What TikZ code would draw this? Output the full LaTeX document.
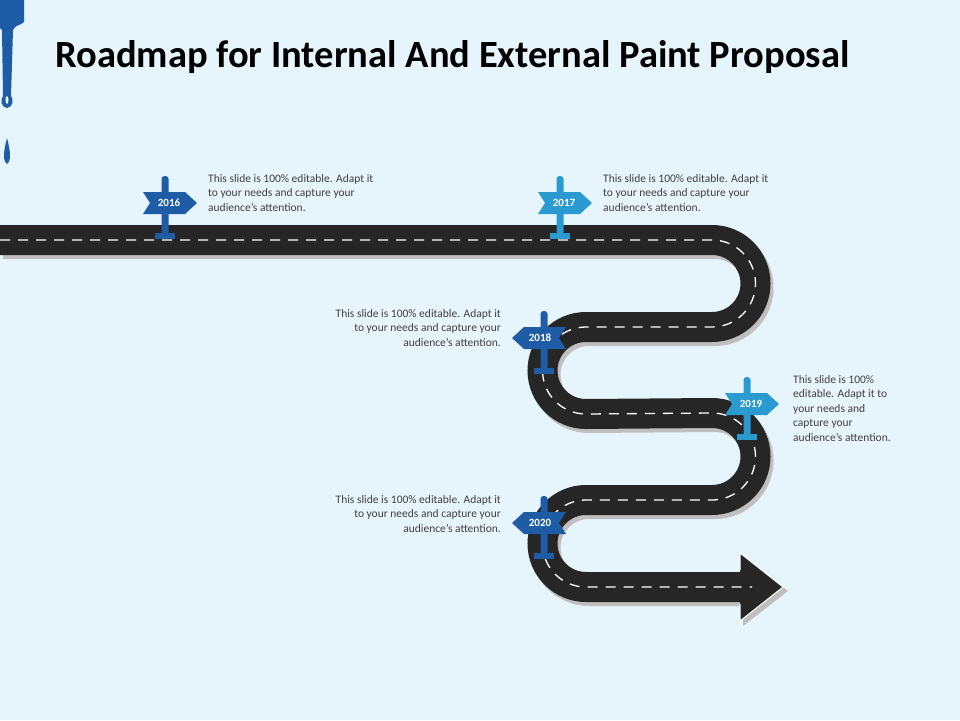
\documentclass[tikz,border=0pt]{standalone}
\usepackage{fontspec}
\setmainfont{Carlito}
\usetikzlibrary{positioning}
\definecolor{bgblue}{HTML}{E6F4FB}
\definecolor{darkpin}{HTML}{1F5CA6}
\definecolor{lightpin}{HTML}{2A9AD0}
\definecolor{roadgray}{HTML}{262626}
\definecolor{txtgray}{HTML}{404040}
\tikzset{
    note/.style={font=\fontsize{11.5}{14.5}\selectfont, text=txtgray, inner sep=0pt, align=left},
    roadpath/.style={line width=30pt},
}
% x position, sign y, direction (1 right, -1 left), colour, label, name
\newcommand{\Signpost}[6]{
    \fill[#4, rounded corners=3pt] (#1-3.5,#2-27) rectangle (#1+3.5,#2+32);
    \fill[#4] (#1-10,#2+30) rectangle (#1+10,#2+36);
    \fill[#4] (#1-22*#3,#2-11) -- (#1+20*#3,#2-11) -- (#1+32*#3,#2)
        -- (#1+20*#3,#2+11) -- (#1-22*#3,#2+11) -- (#1-15*#3,#2) -- cycle;
    \node[text=white, font=\bfseries\fontsize{11}{11}\selectfont] (#6) at (#1+4*#3,#2) {#5};
}
\newcommand{\RoadPath}{(0,240) -- (712,240) arc (-90:90:43.5) -- (586,327)
    arc (270:90:43.5) -- (712,413) arc (-90:90:43.5) -- (586,500)
    arc (270:90:43.5)}

\begin{document}
\begin{tikzpicture}[x=1pt,y=-1pt]
    \fill[bgblue] (0,0) rectangle (960,720);
    \useasboundingbox (0,0) rectangle (960,720);
    % paint drip
    \fill[darkpin] (0,0) -- (24,0) -- (24,22) .. controls (20,26) and (16,24) .. (13,30)
        -- (11,96) .. controls (14,100) and (13,107) .. (7,108)
        .. controls (1,107) and (0,100) .. (3,96) -- (2,30) -- (0,28) -- cycle;
    \fill[bgblue] (7,100) ellipse (1.5pt and 4pt);
    \fill[darkpin] (7,138) .. controls (10,150) and (12,160) .. (7,164)
        .. controls (2,160) and (4,150) .. (7,138) -- cycle;
    \node[anchor=west, font=\bfseries\fontsize{38.5}{38.5}\selectfont] (title) at (52,57)
        {Roadmap for Internal And External Paint Proposal};

    % road
    \begin{scope}[shift={(3,4)}]
        \draw[roadpath, gray!50] \RoadPath -- (742,587);
        \fill[gray!50] (740,552) -- (785,587) -- (740,622) -- cycle;
    \end{scope}
    \draw[roadpath, roadgray] \RoadPath -- (742,587);
    \draw[roadgray, fill=roadgray, draw=white, line width=1pt] (740,570) -- (740,553) -- (783,587)
        -- (740,621) -- (740,604);
    \fill[roadgray] (735,573) rectangle (742,601);
    \draw[white, line width=1.3pt, dash pattern=on 10pt off 8pt] \RoadPath -- (752,587);

    % signposts
    \Signpost{165}{203}{1}{darkpin}{2016}{s2016}
    \Signpost{560}{203}{1}{lightpin}{2017}{s2017}
    \Signpost{544}{338}{-1}{darkpin}{2018}{s2018}
    \Signpost{747}{404}{1}{lightpin}{2019}{s2019}
    \Signpost{544}{523}{-1}{darkpin}{2020}{s2020}

    % notes
    \node[note, anchor=north west] (n2016) at (208,174)
        {This slide is 100\% editable. Adapt it\\to your needs and capture your\\audience's attention.};
    \node[note, anchor=north west] (n2017) at (603,174)
        {This slide is 100\% editable. Adapt it\\to your needs and capture your\\audience's attention.};
    \node[note, anchor=north east, align=right] (n2018) at (501,309)
        {This slide is 100\% editable. Adapt it\\to your needs and capture your\\audience's attention.};
    \node[note, anchor=north west] (n2019) at (793,375)
        {This slide is 100\%\\editable. Adapt it to\\your needs and\\capture your\\audience's attention.};
    \node[note, anchor=north east, align=right] (n2020) at (501,495)
        {This slide is 100\% editable. Adapt it\\to your needs and capture your\\audience's attention.};
\end{tikzpicture}
\end{document}
